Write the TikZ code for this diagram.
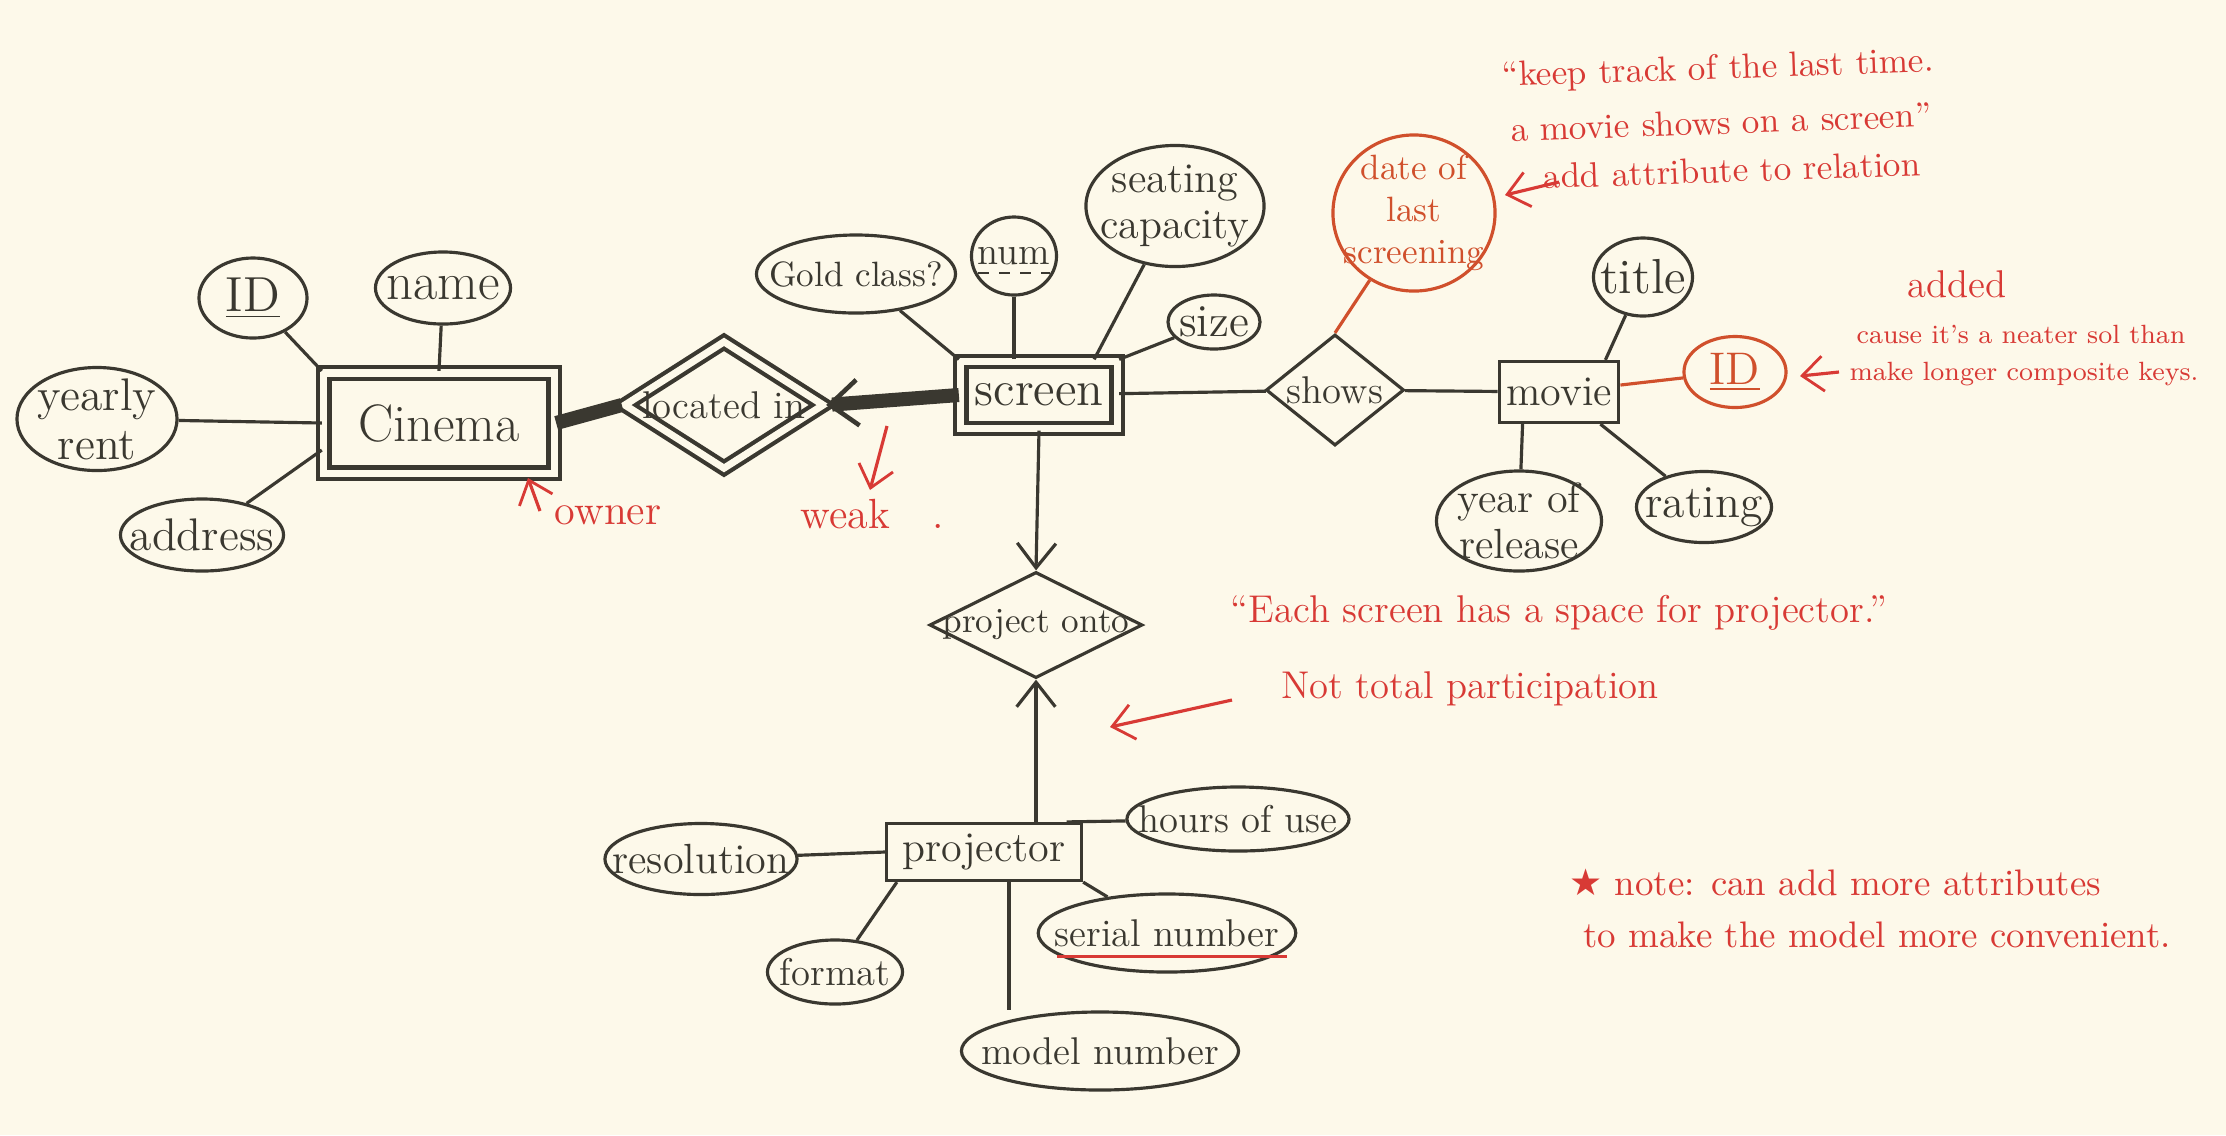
\documentclass[tikz,border=0pt]{standalone}
\usepackage{fontspec}
\newfontfamily\starfont{DejaVu Sans}
\usetikzlibrary{shapes.geometric,arrows.meta}
\begin{document}
\begin{tikzpicture}[x=0.01cm, y=-0.01cm, line width=0.9pt,
  entity/.style={draw=ink, text=ink, rectangle, inner sep=2pt},
  ownerent/.style={entity, double=paper, double distance=2pt, line width=1.2pt},
  attr/.style={draw=ink, text=ink, ellipse, inner xsep=-6pt, inner ysep=-2pt},
  redattr/.style={attr, draw=ochre, text=ochre},
  rel/.style={draw=ink, text=ink, diamond, aspect=2, inner xsep=0pt, inner ysep=-6pt},
  note/.style={text=notered, align=center},
  sz/.style={font=\fontsize{#1}{#1}\selectfont},
  barb/.style={-{Straight Barb[length=7pt, width=11pt, line width=0.9pt]}},
  redbarb/.style={-{Straight Barb[length=6pt, width=10pt, line width=0.8pt]}}]

% Define the colors
\definecolor{paper}{HTML}{FDF9EA}
\definecolor{ink}{HTML}{3A3830}
\definecolor{notered}{HTML}{D83A35}
\definecolor{ochre}{HTML}{D0502C}

% Draw the paper
\fill[paper] (0,0) rectangle (2226,1135);

% Draw the entities
\node[ownerent, sz=15, minimum width=2.3cm, minimum height=1cm] (cinema) at (439,423) {Cinema};
\node[ownerent, sz=14, minimum width=1.56cm, minimum height=0.67cm] (screen) at (1039,395) {screen};
\node[entity, sz=12, minimum width=1.18cm, minimum height=0.61cm] (movie) at (1559,392) {movie};
\node[entity, sz=12, minimum width=1.95cm, minimum height=0.57cm] (projector) at (984,852) {projector};

% Draw the relationships
\node[rel, sz=11, double=paper, double distance=2pt, line width=1.2pt, minimum width=2cm, minimum height=1.28cm] (locin) at (724,405) {located in};
\node[rel, sz=11, minimum width=1.38cm, minimum height=1.11cm] (shows) at (1335,390) {shows};
\node[rel, sz=10, minimum width=2.13cm, minimum height=1.06cm] (projonto) at (1036,625) {project onto};

% Draw the attributes
\node[attr, sz=14, minimum width=1.08cm, minimum height=0.8cm] (cid) at (253,298) {\underline{ID}};
\node[attr, sz=15, minimum width=1.35cm, minimum height=0.72cm] (cname) at (443,288) {name};
\node[attr, font=\fontsize{13}{14}\selectfont, align=center, minimum width=1.6cm, minimum height=1.03cm] (rent) at (97,419) {yearly\\rent};
\node[attr, sz=13, minimum width=1.63cm, minimum height=0.72cm] (address) at (202,535) {address};
\node[attr, sz=10, minimum width=1.99cm, minimum height=0.78cm] (gold) at (856,274) {Gold class?};
\node[attr, sz=11, minimum width=0.85cm, minimum height=0.78cm] (num) at (1014,256) {num};
\node[attr, font=\fontsize{12}{13}\selectfont, align=center, minimum width=1.78cm, minimum height=1.21cm] (seating) at (1175,206) {seating\\capacity};
\node[attr, sz=13, minimum width=0.92cm, minimum height=0.54cm] (size) at (1214,322) {size};
\node[attr, sz=14, minimum width=0.99cm, minimum height=0.78cm] (title) at (1643,277) {title};
\node[attr, font=\fontsize{12}{13}\selectfont, align=center, minimum width=1.65cm, minimum height=1.0cm] (year) at (1519,521) {year of\\release};
\node[attr, sz=13, minimum width=1.35cm, minimum height=0.71cm] (rating) at (1704,507) {rating};
\node[attr, sz=12, minimum width=1.92cm, minimum height=0.71cm] (resolution) at (701,859) {resolution};
\node[attr, sz=11, minimum width=2.2cm, minimum height=0.64cm] (hours) at (1238,819) {hours of use};
\node[attr, sz=11, minimum width=2.56cm, minimum height=0.78cm] (serial) at (1167,933) {serial number};
\node[attr, sz=11, minimum width=1.35cm, minimum height=0.64cm] (format) at (835,972) {format};
\node[attr, sz=11, minimum width=2.77cm, minimum height=0.78cm] (model) at (1100,1051) {model number};

% Draw the added attributes
\node[redattr, font=\fontsize{10}{12}\selectfont, align=center, minimum width=1.62cm, minimum height=1.56cm] (lastdate) at (1414,213) {date of\\last\\screening};
\node[redattr, sz=13, minimum width=1.02cm, minimum height=0.71cm] (mid) at (1735,372) {\underline{ID}};

% Draw the key marks
\draw[ink, dashed, line width=0.6pt] ([xshift=-0.36cm, yshift=-2.5pt]num.base) -- ([xshift=0.36cm, yshift=-2.5pt]num.base);
\draw[notered] ([xshift=-1.1cm, yshift=-3pt]serial.base) -- ([xshift=1.2cm, yshift=-3pt]serial.base);

% Draw the cinema lines
\draw[ink] (rent) -- (cinema.west);
\draw[ink] (cid) -- (cinema.north west);
\draw[ink] (cname) -- (cinema.north);
\draw[ink] (address) -- (cinema.193);

% Draw the screen lines
\draw[ink] (gold) -- (screen.north west);
\draw[ink] (num) -- (num |- screen.north);
\draw[ink] (seating) -- ([xshift=-0.25cm]screen.north east);
\draw[ink] (size) -- (screen.north east);
\draw[ink] (screen) -- (shows);

% Draw the movie lines
\draw[ink] (shows) -- (movie);
\draw[ink] (title) -- ([xshift=-0.15cm]movie.north east);
\draw[ink] ([xshift=0.25cm]movie.south west) -- (year);
\draw[ink] ([xshift=-0.2cm]movie.south east) -- (rating);
\draw[ochre] (lastdate) -- (shows.north);
\draw[ochre] (movie) -- (mid);

% Draw the projector lines
\draw[ink] (resolution) -- (projector.west);
\draw[ink] (projector.20) -- (hours);
\draw[ink] (projector.south east) -- (serial);
\draw[ink] (format) -- ([xshift=0.12cm]projector.south west);
\draw[ink] ([xshift=0.25cm]projector.south) -- ([xshift=0.25cm]projector.south |- model.north);

% Draw the heavy links
\draw[ink, line width=4pt] (cinema.east) -- (locin.west);
\draw[ink, line width=4pt, -{Straight Barb[length=8pt, width=13pt, line width=1.3pt]}] (screen.west) -- (locin.east);
\draw[ink, barb] (screen.south) -- (projonto.north);
\draw[ink, barb] (projonto.south |- projector.north) -- (projonto.south);

% Draw the notes
\node[note, sz=12] (owner) at (608,515) {owner};
\node[note, sz=12] (weak) at (872,514) {weak\hspace{1em}.};
\node[note, sz=10, rotate=2] (track1) at (1718,70) {“keep track of the last time.};
\node[note, sz=10, rotate=2] (track2) at (1721,122) {a movie shows on a screen”};
\node[note, sz=10, rotate=2] (track3) at (1732,170) {add attribute to relation};
\node[note, sz=11] (added) at (1957,284) {added};
\node[note, sz=7.5] (cause1) at (2021,334) {cause it's a neater sol than};
\node[note, sz=7.5] (cause2) at (2024,374) {make longer composite keys.};
\node[note, sz=11] (space) at (1559,613) {“Each screen has a space for projector.”};
\node[note, sz=11] (partial) at (1470,689) {Not total participation};
\node[note, sz=10.5, anchor=west] (note1) at (1556,882) {{\starfont ★} note: can add more attributes};
\node[note, sz=10.5, anchor=west] (note2) at (1570,935) {to make the model more convenient.};

% Draw the note arrows
\coordinate (ownerfoot) at (540,511);
\coordinate (ownertip) at (528,478);
\coordinate (weakfoot) at (887,426);
\coordinate (weaktip) at (870,490);
\coordinate (trackfoot) at (1559,182);
\coordinate (tracktip) at (1505,195);
\coordinate (addedfoot) at (1839,372);
\coordinate (addedtip) at (1800,376);
\coordinate (partfoot) at (1232,700);
\coordinate (parttip) at (1110,727);
\draw[notered, redbarb] (ownerfoot) -- (ownertip);
\draw[notered, redbarb] (weakfoot) -- (weaktip);
\draw[notered, redbarb] (trackfoot) -- (tracktip);
\draw[notered, redbarb] (addedfoot) -- (addedtip);
\draw[notered, redbarb] (partfoot) -- (parttip);

\end{tikzpicture}
\end{document}
